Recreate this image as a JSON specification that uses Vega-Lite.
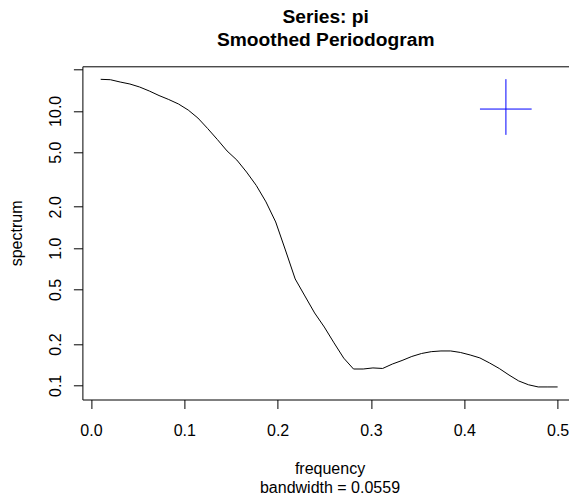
{
  "$schema": "https://vega.github.io/schema/vega-lite/v6.json",
  "width": 486.6,
  "height": 333.2,
  "autosize": {"type": "none"},
  "padding": {"left": 82.4, "top": 66.3, "right": 0, "bottom": 97.5},
  "background": "white",
  "config": {
    "font": "Liberation Sans",
    "view": {"stroke": null},
    "axis": {
      "domainColor": "#000000",
      "tickColor": "#000000",
      "labelColor": "#000000",
      "titleColor": "#000000",
      "grid": false,
      "labelFont": "Liberation Sans",
      "titleFont": "Liberation Sans",
      "labelFontSize": 16,
      "titleFontSize": 16,
      "titleFontWeight": "normal",
      "tickSize": 9,
      "domainWidth": 1,
      "tickWidth": 1,
      "labelFlush": false,
      "labelOverlap": false
    }
  },
  "title": {
    "text": ["Series: pi", "Smoothed Periodogram"],
    "fontSize": 19.2,
    "fontWeight": "bold",
    "font": "Liberation Sans",
    "lineHeight": 23,
    "anchor": "middle",
    "offset": 16.5,
    "color": "#000000"
  },
  "resolve": {"axis": {"x": "independent", "y": "independent"}},
  "layer": [
    {
      "data": {
        "values": [
          {"frequency": 0.0104, "spectrum": 16.96},
          {"frequency": 0.0208, "spectrum": 16.85},
          {"frequency": 0.0313, "spectrum": 16.21},
          {"frequency": 0.0417, "spectrum": 15.68},
          {"frequency": 0.0521, "spectrum": 14.91},
          {"frequency": 0.0625, "spectrum": 13.94},
          {"frequency": 0.0729, "spectrum": 12.92},
          {"frequency": 0.0833, "spectrum": 12.09},
          {"frequency": 0.0938, "spectrum": 11.21},
          {"frequency": 0.1042, "spectrum": 10.13},
          {"frequency": 0.1146, "spectrum": 8.86},
          {"frequency": 0.125, "spectrum": 7.43},
          {"frequency": 0.1354, "spectrum": 6.18},
          {"frequency": 0.1458, "spectrum": 5.1},
          {"frequency": 0.1563, "spectrum": 4.38},
          {"frequency": 0.1667, "spectrum": 3.58},
          {"frequency": 0.1771, "spectrum": 2.86},
          {"frequency": 0.1875, "spectrum": 2.17},
          {"frequency": 0.1979, "spectrum": 1.55},
          {"frequency": 0.2083, "spectrum": 0.969},
          {"frequency": 0.2188, "spectrum": 0.596},
          {"frequency": 0.2292, "spectrum": 0.448},
          {"frequency": 0.2396, "spectrum": 0.337},
          {"frequency": 0.25, "spectrum": 0.266},
          {"frequency": 0.2604, "spectrum": 0.204},
          {"frequency": 0.2708, "spectrum": 0.158},
          {"frequency": 0.2813, "spectrum": 0.1316},
          {"frequency": 0.2917, "spectrum": 0.1316},
          {"frequency": 0.3021, "spectrum": 0.134},
          {"frequency": 0.3125, "spectrum": 0.1328},
          {"frequency": 0.3229, "spectrum": 0.143},
          {"frequency": 0.3333, "spectrum": 0.1518},
          {"frequency": 0.3438, "spectrum": 0.1624},
          {"frequency": 0.3542, "spectrum": 0.1707},
          {"frequency": 0.3646, "spectrum": 0.176},
          {"frequency": 0.375, "spectrum": 0.1781},
          {"frequency": 0.3854, "spectrum": 0.1781},
          {"frequency": 0.3958, "spectrum": 0.1737},
          {"frequency": 0.4063, "spectrum": 0.1665},
          {"frequency": 0.4167, "spectrum": 0.1585},
          {"frequency": 0.4271, "spectrum": 0.1456},
          {"frequency": 0.4375, "spectrum": 0.1327},
          {"frequency": 0.4479, "spectrum": 0.119},
          {"frequency": 0.4583, "spectrum": 0.1077},
          {"frequency": 0.4688, "spectrum": 0.101},
          {"frequency": 0.4792, "spectrum": 0.0974},
          {"frequency": 0.4896, "spectrum": 0.0974},
          {"frequency": 0.5, "spectrum": 0.0974}
        ]
      },
      "mark": {"type": "line", "color": "#000000", "strokeWidth": 1},
      "encoding": {
        "x": {
          "field": "frequency",
          "type": "quantitative",
          "scale": {"domain": [-0.0092, 0.5122], "nice": false, "zero": false},
          "axis": {
            "orient": "bottom",
            "values": [0, 0.1, 0.2, 0.3, 0.4, 0.5],
            "format": ".1f",
            "labelAlign": "center",
            "labelBaseline": "alphabetic",
            "labelPadding": 26.5,
            "title": ["frequency", "bandwidth = 0.0559"],
            "titleX": 247.1,
            "titleY": 74,
            "titleAlign": "center",
            "titleBaseline": "alphabetic",
            "titleLineHeight": 18.5
          }
        },
        "y": {
          "field": "spectrum",
          "type": "quantitative",
          "scale": {"type": "log", "domain": [0.0789, 21.1], "nice": false, "zero": false},
          "axis": {
            "orient": "left",
            "values": [0.1, 0.2, 0.5, 1, 2, 5, 10, 20],
            "labelExpr": "datum.value >= 19 ? '' : format(datum.value, '.1f')",
            "labelAngle": 270,
            "labelAlign": "center",
            "labelBaseline": "alphabetic",
            "labelPadding": 13.4,
            "title": "spectrum",
            "titleX": -61,
            "titleY": 166.6,
            "titleAngle": 270,
            "titleAlign": "center",
            "titleBaseline": "alphabetic"
          }
        }
      }
    },
    {
      "data": {"values": [{"f1": 0.4168, "f2": 0.4722, "s": 10.3}]},
      "mark": {"type": "rule", "color": "#0000ff", "strokeWidth": 1},
      "encoding": {
        "x": {
          "field": "f1",
          "type": "quantitative",
          "scale": {"domain": [-0.0092, 0.5122], "nice": false, "zero": false},
          "axis": {"orient": "top", "ticks": false, "labels": false, "title": null, "domain": true}
        },
        "x2": {"field": "f2"},
        "y": {
          "field": "s",
          "type": "quantitative",
          "scale": {"type": "log", "domain": [0.0789, 21.1], "nice": false, "zero": false},
          "axis": null
        }
      }
    },
    {
      "data": {"values": [{"f": 0.4446, "s1": 6.68, "s2": 17.0}]},
      "mark": {"type": "rule", "color": "#0000ff", "strokeWidth": 1},
      "encoding": {
        "x": {
          "field": "f",
          "type": "quantitative",
          "scale": {"domain": [-0.0092, 0.5122], "nice": false, "zero": false},
          "axis": null
        },
        "y": {
          "field": "s1",
          "type": "quantitative",
          "scale": {"type": "log", "domain": [0.0789, 21.1], "nice": false, "zero": false},
          "axis": null
        },
        "y2": {"field": "s2"}
      }
    }
  ]
}
